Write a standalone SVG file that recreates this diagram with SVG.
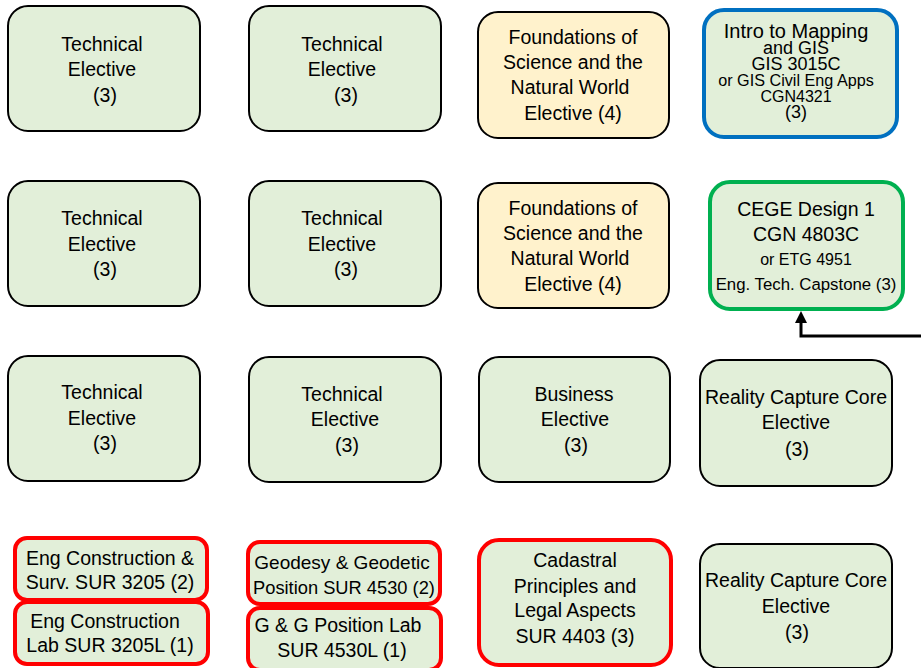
<svg xmlns="http://www.w3.org/2000/svg" width="921" height="668" viewBox="0 0 921 668">
<style>
.bx{fill:#E2EFD9;stroke:#000;stroke-width:2}
.yl{fill:#FFF2CC;stroke:#000;stroke-width:2}
.rd{fill:#E2EFD9;stroke:#FF0000;stroke-width:4}
.bl{fill:#E2EFD9;stroke:#0070C0;stroke-width:4}
.gn{fill:#E2EFD9;stroke:#00B050;stroke-width:4}
text{font-family:"Liberation Sans",Arial,sans-serif;font-size:19.5px;fill:#000;text-anchor:middle}
.m{font-size:18px}
.s{font-size:16px}
.c{font-size:16.8px}
.xs{font-size:16.2px}
.conn{fill:none;stroke:#000;stroke-width:3}
</style>

<g id="n-r1c1"><rect class="bx" x="8" y="6" width="192" height="125" rx="20"/>
<text x="102" y="51">Technical</text><text x="102" y="76">Elective</text><text x="105" y="102">(3)</text></g>
<g id="n-r1c2"><rect class="bx" x="249" y="6" width="192" height="125" rx="20"/>
<text x="342" y="51">Technical</text><text x="342" y="76">Elective</text><text x="346" y="102">(3)</text></g>
<g id="n-r1c3"><rect class="yl" x="478" y="12" width="191" height="126" rx="20"/>
<text x="573" y="44">Foundations of</text><text x="573" y="69">Science and the</text><text x="570" y="94">Natural World</text><text x="573" y="120">Elective (4)</text></g>
<g id="n-r1c4"><rect class="bl" x="704" y="10" width="193" height="127" rx="20"/>
<text x="796" y="38" style="font-size:20px">Intro to Mapping</text><text class="m" x="796" y="54">and GIS</text><text class="m" x="796" y="70">GIS 3015C</text>
<text class="xs" x="796" y="86">or GIS Civil Eng Apps</text><text class="s" x="796" y="102">CGN4321</text><text class="m" x="796" y="118">(3)</text></g>

<g id="n-r2c1"><rect class="bx" x="8" y="181" width="192" height="125" rx="20"/>
<text x="102" y="225">Technical</text><text x="102" y="251">Elective</text><text x="105" y="276">(3)</text></g>
<g id="n-r2c2"><rect class="bx" x="249" y="181" width="192" height="125" rx="20"/>
<text x="342" y="225">Technical</text><text x="342" y="251">Elective</text><text x="346" y="276">(3)</text></g>
<g id="n-r2c3"><rect class="yl" x="478" y="183" width="191" height="125" rx="20"/>
<text x="573" y="215">Foundations of</text><text x="573" y="240">Science and the</text><text x="570" y="265">Natural World</text><text x="573" y="291">Elective (4)</text></g>
<g id="n-r2c4"><rect class="gn" x="710" y="182" width="193" height="127" rx="20"/>
<text x="806" y="216">CEGE Design 1</text><text x="806" y="241">CGN 4803C</text>
<text class="s" x="806" y="265">or ETG 4951</text><text class="c" x="806" y="290">Eng. Tech. Capstone (3)</text></g>

<g id="n-r3c1"><rect class="bx" x="8" y="356" width="192" height="125" rx="20"/>
<text x="102" y="399">Technical</text><text x="102" y="425">Elective</text><text x="105" y="450">(3)</text></g>
<g id="n-r3c2"><rect class="bx" x="249" y="357" width="192" height="125" rx="20"/>
<text x="342" y="401">Technical</text><text x="345" y="426">Elective</text><text x="347" y="452">(3)</text></g>
<g id="n-r3c3"><rect class="bx" x="479" y="357" width="191" height="125" rx="20"/>
<text x="574" y="401">Business</text><text x="575" y="426">Elective</text><text x="576" y="452">(3)</text></g>
<g id="n-r3c4"><rect class="bx" x="700" y="360" width="192" height="126" rx="20"/>
<text x="796" y="404">Reality Capture Core</text><text x="796" y="429">Elective</text><text x="797" y="456">(3)</text></g>

<g id="n-r4c1a"><rect class="rd" x="15" y="538" width="192" height="62" rx="12"/>
<text x="110" y="565">Eng Construction &amp;</text><text x="110" y="589">Surv. SUR 3205 (2)</text></g>
<g id="n-r4c1b"><rect class="rd" x="15" y="602" width="193" height="62" rx="12"/>
<text x="105" y="628">Eng Construction</text><text x="110" y="652">Lab SUR 3205L (1)</text></g>
<g id="n-r4c2a"><rect class="rd" x="248" y="542" width="192" height="62" rx="12"/>
<text x="342" y="569" style="font-size:19px">Geodesy &amp; Geodetic</text><text x="344" y="594" style="font-size:18.3px">Position SUR 4530 (2)</text></g>
<g id="n-r4c2b"><rect class="rd" x="248" y="608" width="193" height="62" rx="12"/>
<text x="338" y="632">G &amp; G Position Lab</text><text x="342" y="657">SUR 4530L (1)</text></g>
<g id="n-r4c3"><rect class="rd" x="479" y="540" width="192" height="125" rx="20"/>
<text x="575" y="567">Cadastral</text><text x="575" y="593">Principles and</text><text x="575" y="617">Legal Aspects</text><text x="575" y="643">SUR 4403 (3)</text></g>
<g id="n-r4c4"><rect class="bx" x="700" y="544" width="192" height="124" rx="20"/>
<text x="796" y="587">Reality Capture Core</text><text x="796" y="613">Elective</text><text x="797" y="639">(3)</text></g>

<g id="connectors">
<path class="conn" d="M921,336 H801 V322"/>
<polygon points="801,311 795,323 807,323" fill="#000"/>
</g>
</svg>
